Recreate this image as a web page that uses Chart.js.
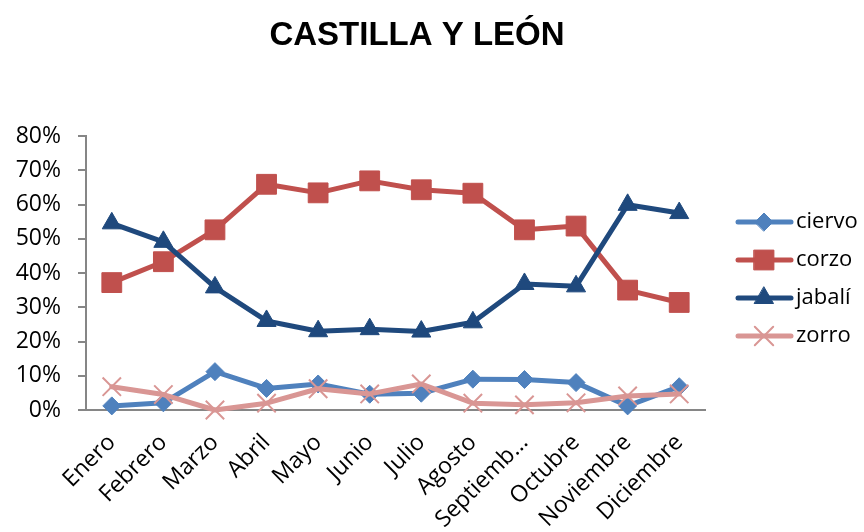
<!DOCTYPE html>
<html>
<head>
<meta charset="utf-8">
<script src="https://cdn.jsdelivr.net/npm/chart.js@4"></script>
<style>
  html, body { margin: 0; padding: 0; background: #fff; }
  #wrap { width: 864px; height: 532px; }
</style>
</head>
<body>
<div id="wrap"><canvas id="chart" width="864" height="532"></canvas></div>
<script>
// Data (percent)
const months = ['Enero', 'Febrero', 'Marzo', 'Abril', 'Mayo', 'Junio', 'Julio', 'Agosto', 'Septiemb...', 'Octubre', 'Noviembre', 'Diciembre'];
const ciervo = [1.2, 2.1, 11.2, 6.3, 7.6, 4.6, 4.9, 9.0, 8.9, 8.0, 1.2, 6.8];
const corzo = [37.2, 43.3, 52.6, 65.9, 63.4, 66.9, 64.3, 63.3, 52.6, 53.7, 35.0, 31.4];
const jabali = [54.5, 49.1, 35.8, 26.0, 23.0, 23.6, 22.9, 25.6, 36.8, 36.1, 59.9, 57.5];
const zorro = [6.8, 4.5, 0.0, 2.0, 6.2, 4.7, 7.6, 2.0, 1.5, 2.1, 4.1, 4.7];
const yTicks = [0, 10, 20, 30, 40, 50, 60, 70, 80];

const chartTitle = 'CASTILLA Y LEÓN';
const axisGray = '#868686';
const tickFont = { family: '"Open Sans"', size: 23 };

function series(label, data, color, style, radius, order) {
    return {
        label: label,
        data: data,
        borderColor: color,
        backgroundColor: color,
        pointBackgroundColor: color,
        pointBorderColor: color,
        pointStyle: style,
        pointRadius: radius,
        pointBorderWidth: style === 'crossRot' ? 2 : 1,
        borderWidth: 5,
        borderCapStyle: 'round',
        borderJoinStyle: 'round',
        tension: 0,
        clip: false,
        order: order
    };
}

const datasets = [
    series('ciervo', ciervo, '#4F81BD', 'rectRot', 9, 3),
    series('corzo', corzo, '#C0504D', 'rect', 14, 2),
    series('jabalí', jabali, '#1F497D', 'triangle', 11, 1),
    series('zorro', zorro, '#D99694', 'crossRot', 13, 0)
];

function drawMarker(ctx, ds, x, y) {
    Chart.helpers.drawPoint(ctx, {
        pointStyle: ds.pointStyle,
        rotation: 0,
        radius: ds.pointRadius,
        borderWidth: ds.pointBorderWidth
    }, x, y);
}

// title and legend drawn by hand so they sit where the picture has them
const decorations = {
    id: 'decorations',
    afterDraw(chart) {
        const ctx = chart.ctx;
        ctx.save();
        ctx.fillStyle = '#000';
        ctx.font = 'bold 33px "Liberation Sans"';
        ctx.textAlign = 'center';
        ctx.textBaseline = 'alphabetic';
        ctx.fillText(chartTitle, 417, 45);

        ctx.font = '22px "Open Sans"';
        ctx.textAlign = 'left';
        ctx.textBaseline = 'middle';
        datasets.forEach(function (ds, i) {
            const y = 222 + i * 38;
            ctx.strokeStyle = ds.borderColor;
            ctx.lineWidth = 5;
            ctx.lineCap = 'round';
            ctx.beginPath();
            ctx.moveTo(738, y);
            ctx.lineTo(791, y);
            ctx.stroke();
            ctx.fillStyle = ds.borderColor;
            ctx.lineWidth = ds.pointBorderWidth;
            drawMarker(ctx, ds, 764, y);
            ctx.fillStyle = '#000';
            ctx.fillText(ds.label, 796, y);
        });
        ctx.restore();
    }
};

const ctx = document.getElementById('chart').getContext('2d');
new Chart(ctx, {
    type: 'line',
    data: { labels: months, datasets: datasets },
    options: {
        responsive: false,
        animation: false,
        layout: { padding: { top: 136, right: 159, left: 0, bottom: 0 } },
        plugins: {
            legend: { display: false },
            title: { display: false },
            tooltip: { enabled: false }
        },
        scales: {
            x: {
                offset: true,
                grid: { display: false },
                border: { display: true, color: axisGray, width: 2 },
                ticks: {
                    font: tickFont,
                    color: '#000',
                    autoSkip: false,
                    minRotation: 45,
                    maxRotation: 45,
                    padding: 11
                },
                afterFit(s) { s.height = 122; }
            },
            y: {
                min: 0,
                max: 80,
                afterBuildTicks(s) { s.ticks = yTicks.map(v => ({ value: v })); },
                grid: {
                    display: true,
                    drawOnChartArea: false,
                    drawTicks: true,
                    tickLength: 8,
                    color: axisGray,
                    lineWidth: 2
                },
                border: { display: true, color: axisGray, width: 2 },
                ticks: {
                    font: tickFont,
                    color: '#000',
                    padding: 17,
                    callback: v => v + '%'
                },
                afterFit(s) { s.width = 86; }
            }
        }
    },
    plugins: [decorations]
});
</script>
</body>
</html>
